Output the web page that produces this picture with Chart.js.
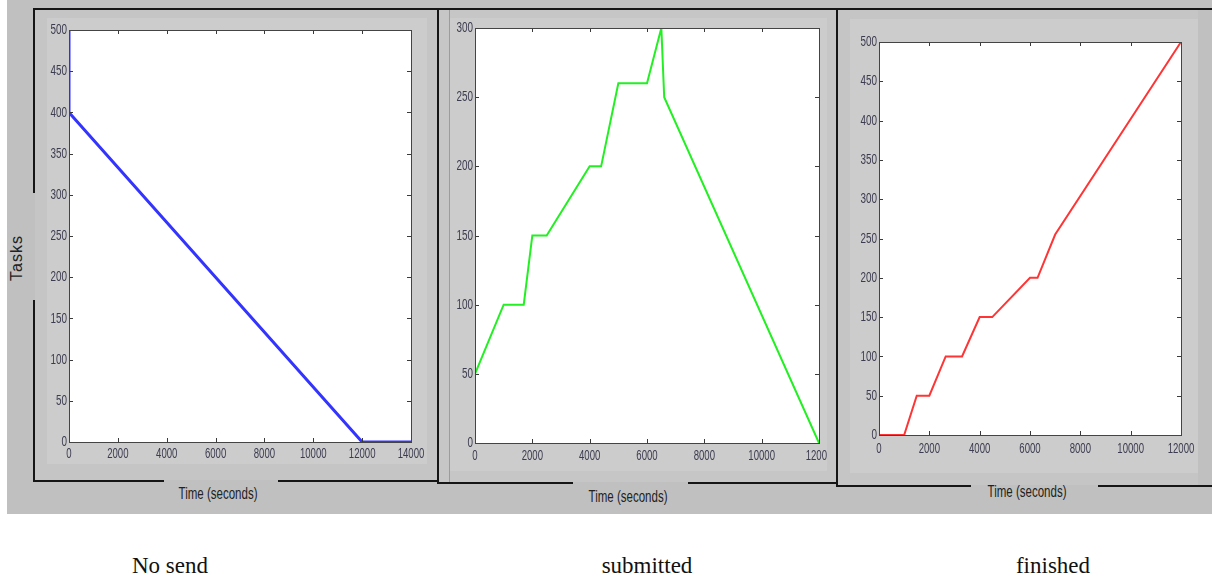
<!DOCTYPE html>
<html>
<head>
<meta charset="utf-8">
<script src="https://cdn.jsdelivr.net/npm/chart.js@4.4.1/dist/chart.umd.min.js"></script>
<style>
  body { margin: 0; background: #fff; }
  #page { position: relative; width: 1212px; height: 580px; overflow: hidden; }
  .rect { position: absolute; }
  .plotbox { position: absolute; background: #cccccc; overflow: hidden; }
  .plotbox canvas { position: absolute; left: 0; top: 0; }
  .axlabel { position: absolute; font-family: "Liberation Sans", Arial, sans-serif;
             font-size: 16px; color: #222; transform: translate(-50%, -50%) scaleX(0.72); white-space: nowrap; }
  .cap { position: absolute; font-family: "Liberation Serif", serif; font-size: 23px; color: #111;
         transform: translate(-50%, -50%); white-space: nowrap; }
</style>
</head>
<body>
<div id="page">
  <div class="plotbox" id="box1" style="left:47px;top:18px;width:380px;height:446px"><canvas id="noSendChart"></canvas></div>
  <div class="plotbox" id="box2" style="left:450px;top:18px;width:377px;height:453px"><canvas id="submittedChart"></canvas></div>
  <div class="plotbox" id="box3" style="left:850px;top:19px;width:348px;height:454px"><canvas id="finishedChart"></canvas></div>
</div>
<script>
// values (time in seconds, number of tasks)
const noSendTime  = [0, 0, 12000, 14000];
const noSendTasks = [500, 400, 0, 0];

const submittedTime  = [0, 1000, 1700, 2000, 2500, 4000, 4400, 5000, 6000, 6500, 6600, 12000];
const submittedTasks = [50, 100, 100, 150, 150, 200, 200, 260, 260, 300, 250, 0];

const finishedTime  = [0, 1000, 1500, 2000, 2650, 3300, 4000, 4500, 6000, 6300, 7000, 12000];
const finishedTasks = [0, 0, 50, 50, 100, 100, 150, 150, 200, 200, 255, 500];

// tick labels
const timeTicks14 = [0, 2000, 4000, 6000, 8000, 10000, 12000, 14000];
const timeTicks12 = [0, 2000, 4000, 6000, 8000, 10000, 12000];
const taskTicks500 = [0, 50, 100, 150, 200, 250, 300, 350, 400, 450, 500];
const taskTicks300 = [0, 50, 100, 150, 200, 250, 300];

const captions = ['No send', 'submitted', 'finished'];
const axisTitleX = 'Time (seconds)';
const axisTitleY = 'Tasks';

const page = document.getElementById('page');

function rect(x, y, w, h, color) {
    const d = document.createElement('div');
    d.className = 'rect';
    d.style.cssText = `left:${x}px;top:${y}px;width:${w}px;height:${h}px;background:${color}`;
    page.insertBefore(d, page.firstChild);
}

function text(cls, str, x, y, rotate) {
    const d = document.createElement('div');
    d.className = cls;
    d.textContent = str;
    d.style.left = x + 'px';
    d.style.top = y + 'px';
    if (rotate) {
        d.style.transform = 'translate(-50%, -50%) rotate(-90deg)';
        d.style.letterSpacing = '1px';
    }
    page.appendChild(d);
}

// window frames (drawn back to front, rect() inserts at the bottom)
const black = '#151515';
rect(836, 485, 135, 2, black);
rect(1098, 485, 114, 2, black);
rect(836, 8, 2, 479, black);
rect(437, 482, 136, 2, black);
rect(688, 482, 148, 2, black);
rect(449, 10, 1, 472, '#9c9c9c');
rect(437, 8, 2, 476, black);
rect(33, 480, 131, 2, black);
rect(278, 480, 159, 2, black);
rect(33, 8, 2, 185, black);
rect(33, 300, 2, 182, black);
rect(33, 8, 1179, 2, black);
rect(1198, 10, 14, 475, '#c0c0c0');
rect(838, 10, 360, 475, '#c5c5c5');
rect(439, 10, 397, 472, '#c6c6c6');
rect(35, 10, 402, 470, '#c5c5c5');
rect(7, 0, 1205, 514, '#c0c0c0');

text('axlabel', axisTitleY, 17, 258, true);
text('axlabel', axisTitleX, 218, 494);
text('axlabel', axisTitleX, 628, 497);
text('axlabel', axisTitleX, 1027, 492);
text('cap', captions[0], 170, 566);
text('cap', captions[1], 647, 566);
text('cap', captions[2], 1053, 566);

// white plot area, box, inward ticks and narrow tick labels like the original figure
const matlabAxes = {
    id: 'matlabAxes',
    beforeDraw(chart) {
        const a = chart.chartArea;
        chart.ctx.save();
        chart.ctx.fillStyle = '#ffffff';
        chart.ctx.fillRect(a.left, a.top, a.right - a.left, a.bottom - a.top);
        chart.ctx.restore();
    },
    afterDraw(chart) {
        const ctx = chart.ctx, a = chart.chartArea;
        const x = chart.scales.x, y = chart.scales.y;
        const gap = chart.options.plugins.matlabAxes.labelGap;
        ctx.save();
        ctx.strokeStyle = '#3a3a3a';
        ctx.lineWidth = 1;
        ctx.beginPath();
        x.ticks.forEach(t => {
            const px = Math.round(x.getPixelForValue(t.value)) + 0.5;
            ctx.moveTo(px, a.bottom); ctx.lineTo(px, a.bottom - 4);
            ctx.moveTo(px, a.top); ctx.lineTo(px, a.top + 4);
        });
        y.ticks.forEach(t => {
            const py = Math.round(y.getPixelForValue(t.value)) + 0.5;
            ctx.moveTo(a.left, py); ctx.lineTo(a.left + 4, py);
            ctx.moveTo(a.right, py); ctx.lineTo(a.right - 4, py);
        });
        ctx.stroke();
        ctx.strokeStyle = '#444';
        ctx.strokeRect(Math.round(a.left) + 0.5, Math.round(a.top) + 0.5,
                       Math.round(a.right - a.left), Math.round(a.bottom - a.top));

        ctx.font = '15px "Liberation Sans", Arial, sans-serif';
        ctx.fillStyle = '#3c3c50';
        ctx.textAlign = 'center';
        ctx.textBaseline = 'top';
        x.ticks.forEach(t => {
            ctx.save();
            ctx.translate(x.getPixelForValue(t.value), a.bottom + gap);
            ctx.scale(0.64, 1);
            ctx.fillText(String(t.value), 0, 0);
            ctx.restore();
        });
        ctx.textAlign = 'right';
        ctx.textBaseline = 'middle';
        y.ticks.forEach(t => {
            ctx.save();
            ctx.translate(a.left - 2, y.getPixelForValue(t.value));
            ctx.scale(0.66, 1);
            ctx.fillText(String(t.value), 0, 0);
            ctx.restore();
        });
        ctx.restore();
    }
};

function makePanel(id, time, tasks, color, lineWidth, xTicks, yTicks, size) {
    const canvas = document.getElementById(id);
    canvas.width = size.w;
    canvas.height = size.h;
    canvas.style.width = size.w + 'px';
    canvas.style.height = size.h + 'px';
    return new Chart(canvas, {
        type: 'line',
        data: {
            datasets: [{
                data: time.map((t, i) => ({ x: t, y: tasks[i] })),
                borderColor: color,
                borderWidth: lineWidth,
                pointRadius: 0,
                tension: 0,
                fill: false
            }]
        },
        options: {
            responsive: false,
            animation: false,
            layout: { padding: { left: 0, right: size.pr, top: size.pt, bottom: 0 } },
            plugins: {
                legend: { display: false },
                tooltip: { enabled: false },
                matlabAxes: { labelGap: size.gap }
            },
            scales: {
                x: {
                    type: 'linear',
                    min: xTicks[0],
                    max: xTicks[xTicks.length - 1],
                    grid: { display: false },
                    border: { display: false },
                    afterBuildTicks: s => { s.ticks = xTicks.map(v => ({ value: v })); },
                    afterFit: s => { s.height = size.xh; },
                    ticks: { display: false }
                },
                y: {
                    type: 'linear',
                    min: yTicks[0],
                    max: yTicks[yTicks.length - 1],
                    grid: { display: false },
                    border: { display: false },
                    afterBuildTicks: s => { s.ticks = yTicks.map(v => ({ value: v })); },
                    afterFit: s => { s.width = size.yw; },
                    ticks: { display: false }
                }
            }
        },
        plugins: [matlabAxes]
    });
}

makePanel('noSendChart', noSendTime, noSendTasks, '#3434ff', 3, timeTicks14, taskTicks500,
          { w: 380, h: 446, pt: 12, pr: 16, yw: 22, xh: 22, gap: 4 });
makePanel('submittedChart', submittedTime, submittedTasks, '#22f022', 2, timeTicks12, taskTicks300,
          { w: 400, h: 453, pt: 10, pr: 31, yw: 25, xh: 28, gap: 5 });
makePanel('finishedChart', finishedTime, finishedTasks, '#ff3535', 2, timeTicks12, taskTicks500,
          { w: 348, h: 454, pt: 23, pr: 17, yw: 29, xh: 38, gap: 6 });
</script>
</body>
</html>
